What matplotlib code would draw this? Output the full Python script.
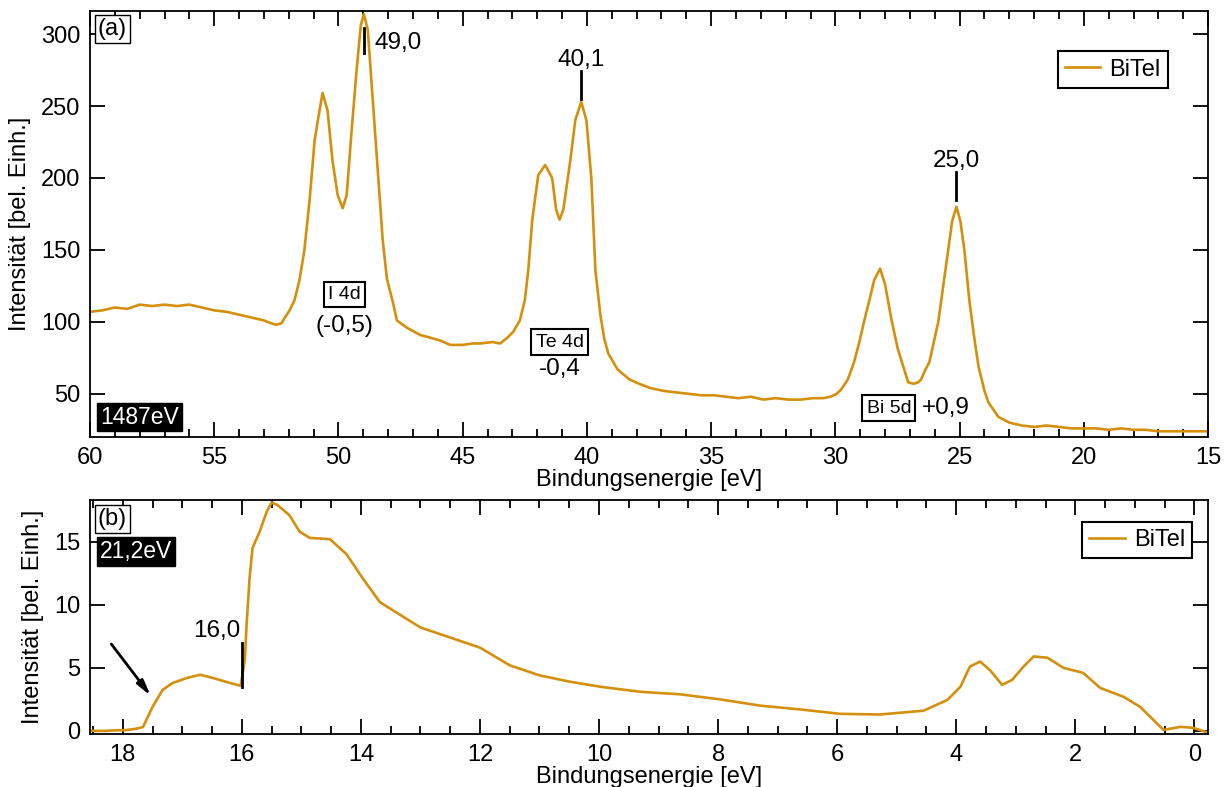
import numpy as np
import matplotlib
matplotlib.use("Agg")
from matplotlib import pyplot as plt
from matplotlib.ticker import MultipleLocator

plt.rcParams['font.family'] = ['Liberation Sans', 'DejaVu Sans']

LINE = '#d4900c'

# (a) XPS survey, 1487 eV
e_a = [60.0, 59.5, 59.0, 58.5, 58.0, 57.5, 57.0, 56.5, 56.0, 55.5, 55.0, 54.5,
       54.0, 53.5, 53.0, 52.7, 52.5, 52.3, 51.97, 51.77, 51.57, 51.37, 51.16,
       50.96, 50.84, 50.64, 50.44, 50.24, 50.03, 49.83, 49.67, 49.47, 49.27,
       49.1, 48.98, 48.82, 48.62, 48.42, 48.22, 48.05, 47.8, 47.65, 47.25,
       46.72, 46.3, 45.9, 45.5, 45.0, 44.6, 44.3, 43.8, 43.5, 43.2, 42.97,
       42.7, 42.5, 42.36, 42.2, 41.96, 41.68, 41.4, 41.24, 41.1, 40.95, 40.67,
       40.47, 40.23, 40.02, 39.82, 39.66, 39.46, 39.3, 39.14, 38.77, 38.29,
       37.9, 37.44, 36.9, 36.4, 35.9, 35.4, 34.9, 34.4, 33.9, 33.4, 32.9,
       32.4, 31.9, 31.4, 30.9, 30.5, 30.2, 29.95, 29.77, 29.5, 29.25, 29.05,
       28.85, 28.62, 28.44, 28.2, 28.0, 27.76, 27.5, 27.27, 27.07, 26.85,
       26.67, 26.55, 26.4, 26.22, 26.05, 25.86, 25.66, 25.46, 25.3, 25.13,
       24.97, 24.81, 24.61, 24.42, 24.24, 24.0, 23.84, 23.44, 23.0, 22.5,
       22.0, 21.5, 21.0, 20.5, 20.0, 19.5, 19.0, 18.5, 18.0, 17.5, 17.0,
       16.5, 16.0, 15.5, 15.0]
i_a = [107, 108, 110, 109, 112, 111, 112, 111, 112, 110, 108, 107,
       105, 103, 101, 99, 98, 99, 108, 115, 129, 150, 185,
       226, 239, 259, 247, 212, 188, 179, 188, 233, 275,
       306, 314, 303, 254, 206, 157, 130, 113, 101, 96,
       91, 89, 87, 84, 84, 85, 85, 86, 85, 89, 93,
       101, 115, 136, 171, 202, 209, 200, 178, 171, 178, 212,
       240, 253, 240, 199, 136, 105, 88, 78, 67, 60,
       57, 54, 52, 51, 50, 49, 49, 48, 47, 48, 46,
       47, 46, 46, 47, 47, 48, 50, 53, 60, 72, 85,
       100, 116, 129, 137, 126, 103, 82, 69, 58, 57,
       58, 60, 66, 72, 85, 100, 125, 150, 170, 180,
       170, 150, 115, 90, 69, 52, 44, 34, 30, 28,
       27, 28, 27, 26, 26, 26, 25, 26, 25, 25, 24,
       24, 24, 24, 24]

# (b) UPS, 21.2 eV
e_b = [18.55, 18.3, 18.1, 17.97, 17.8, 17.66, 17.5, 17.33, 17.16, 16.92, 16.7,
       16.49, 16.2, 16.02, 15.95, 15.92, 15.87, 15.82, 15.7, 15.58, 15.5,
       15.4, 15.2, 15.03, 14.86, 14.52, 14.24, 13.97, 13.68, 13.34, 13.0,
       12.5, 12.0, 11.5, 11.0, 10.49, 9.98, 9.31, 8.64, 7.97, 7.29, 6.62,
       5.95, 5.28, 4.55, 4.15, 3.93, 3.77, 3.6, 3.43, 3.23, 3.06, 2.87, 2.7,
       2.47, 2.2, 1.87, 1.58, 1.19, 0.91, 0.69, 0.52, 0.23, 0.02, -0.19]
i_b = [0.0, 0.0, 0.05, 0.05, 0.15, 0.3, 1.9, 3.25, 3.8, 4.2, 4.45,
       4.2, 3.8, 3.57, 5.6, 8.4, 12.1, 14.5, 15.8, 17.4, 18.1,
       17.9, 17.1, 15.8, 15.3, 15.2, 14.0, 12.1, 10.2, 9.2, 8.2,
       7.4, 6.6, 5.2, 4.4, 3.9, 3.5, 3.1, 2.9, 2.5, 2.0, 1.7,
       1.35, 1.3, 1.6, 2.45, 3.5, 5.1, 5.5, 4.8, 3.65, 4.05, 5.1, 5.9,
       5.8, 5.0, 4.6, 3.4, 2.7, 1.9, 0.87, 0.08, 0.32, 0.24, -0.08]

# peak markers (position, bottom, top) and labels
marks_a = [(48.97, 287, 304), (40.25, 255, 274), (25.13, 185, 204)]
levels_a = [('I 4d', '(-0,5)', 49.75), ('Te 4d', '-0,4', 41.1), ('Bi 5d', '+0,9', 27.85)]


def style(ax, major, minor, ymajor):
	ax.xaxis.set_major_locator(MultipleLocator(major))
	ax.xaxis.set_minor_locator(MultipleLocator(minor))
	ax.yaxis.set_major_locator(MultipleLocator(ymajor))
	ax.tick_params(which='both', direction='in', top=True, right=True, width=1.3, labelsize=17)
	ax.tick_params(which='major', length=11)
	ax.tick_params(which='minor', length=6)
	ax.tick_params(axis='x', pad=7)
	ax.tick_params(axis='y', pad=7)
	for s in ax.spines.values():
		s.set_linewidth(1.3)
	ax.set_xlabel('Bindungsenergie [eV]', fontsize=17, labelpad=0)
	ax.set_ylabel('Intensität [bel. Einh.]', fontsize=17, labelpad=7)


def main():
	fig = plt.figure(figsize=(12.26, 7.87), dpi=100)
	ax1 = fig.add_axes([0.0734, 0.4447, 0.912, 0.5413])
	ax2 = fig.add_axes([0.0734, 0.0673, 0.912, 0.2973])

	ax1.plot(e_a, i_a, color=LINE, lw=1.9, label='BiTel')
	ax1.set_xlim(60, 15)
	ax1.set_ylim(20, 316)
	style(ax1, 5, 1, 50)
	ax1.yaxis.set_minor_locator(MultipleLocator(1000))

	leg = ax1.legend(loc='upper right', bbox_to_anchor=(0.964, 0.905), fontsize=17,
		fancybox=False, edgecolor='k', framealpha=1, handlelength=1.5, borderpad=0.3,
		handletextpad=0.4, borderaxespad=0)
	leg.get_frame().set_linewidth(1.5)

	box = dict(boxstyle='square,pad=0.12', fc='white', ec='k', lw=1.0)
	ax1.text(0.007, 0.984, '(a)', transform=ax1.transAxes, ha='left', va='top', fontsize=17, bbox=box)
	ax1.text(0.009, 0.02, '1487eV', transform=ax1.transAxes, ha='left', va='bottom', fontsize=16.5,
		color='white', bbox=dict(boxstyle='square,pad=0.12', fc='black', ec='black'))

	for x, y0, y1 in marks_a:
		ax1.plot([x, x], [y0, y1], color='k', lw=2)
	ax1.text(48.55, 294, '49,0', ha='left', va='center', fontsize=17.5)
	ax1.text(40.25, 282, '40,1', ha='center', va='center', fontsize=17.5)
	ax1.text(25.13, 212, '25,0', ha='center', va='center', fontsize=17.5)

	lbox = dict(boxstyle='square,pad=0.22', fc='white', ec='k', lw=1.5)
	name, shift, x = levels_a[0]
	ax1.text(x, 119, name, ha='center', va='center', fontsize=14, bbox=lbox)
	ax1.text(x, 97, shift, ha='center', va='center', fontsize=17.5)
	name, shift, x = levels_a[1]
	ax1.text(x, 86, name, ha='center', va='center', fontsize=14, bbox=lbox)
	ax1.text(x, 67, shift, ha='center', va='center', fontsize=17.5)
	name, shift, x = levels_a[2]
	ax1.text(x, 40, name, ha='center', va='center', fontsize=14, bbox=lbox)
	ax1.text(26.5, 40, shift, ha='left', va='center', fontsize=17.5)

	ax2.plot(e_b, i_b, color=LINE, lw=1.9, label='BiTel')
	ax2.set_xlim(18.55, -0.23)
	ax2.set_ylim(-0.25, 18.3)
	style(ax2, 2, 0.5, 5)
	ax2.yaxis.set_minor_locator(MultipleLocator(1000))

	leg = ax2.legend(loc='upper right', bbox_to_anchor=(0.986, 0.905), fontsize=17,
		fancybox=False, edgecolor='k', framealpha=1, handlelength=1.5, borderpad=0.3,
		handletextpad=0.4, borderaxespad=0)
	leg.get_frame().set_linewidth(1.5)

	ax2.text(0.007, 0.965, '(b)', transform=ax2.transAxes, ha='left', va='top', fontsize=17, bbox=box)
	ax2.text(0.009, 0.83, '21,2eV', transform=ax2.transAxes, ha='left', va='top', fontsize=16.5,
		color='white', bbox=dict(boxstyle='square,pad=0.12', fc='black', ec='black'))

	ax2.plot([16.0, 16.0], [3.5, 7.0], color='k', lw=2)
	ax2.text(16.02, 7.9, '16,0', ha='right', va='center', fontsize=17.5)
	ax2.annotate('', xy=(17.5, 2.6), xytext=(18.22, 7.06),
		arrowprops=dict(arrowstyle='-|>,head_length=0.9,head_width=0.22', lw=2, color='k'))

	fig.savefig('out.png', dpi=100)


if __name__ == "__main__":
	main()
